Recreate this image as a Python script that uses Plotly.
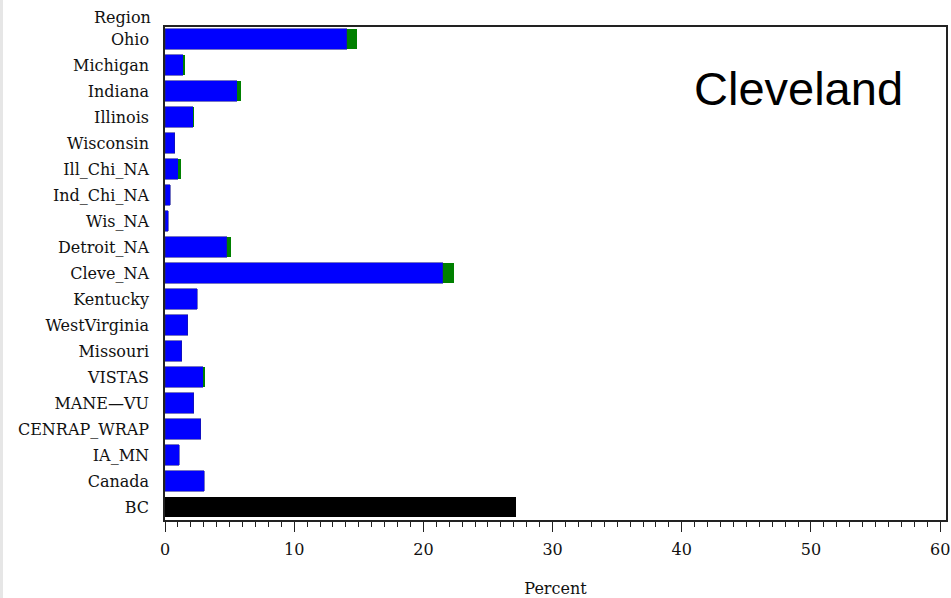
import plotly.graph_objects as go

regions = ["Ohio", "Michigan", "Indiana", "Illinois", "Wisconsin", "Ill_Chi_NA",
           "Ind_Chi_NA", "Wis_NA", "Detroit_NA", "Cleve_NA", "Kentucky",
           "WestVirginia", "Missouri", "VISTAS", "MANE\u2014VU", "CENRAP_WRAP",
           "IA_MN", "Canada", "BC"]
blue_vals = [14.05, 1.42, 5.6, 2.2, 0.75, 1.03, 0.39, 0.26, 4.77, 21.49, 2.5,
             1.75, 1.29, 2.97, 2.22, 2.76, 1.11, 3.04, 0]
green_vals = [0.83, 0.15, 0.26, 0.03, 0.0, 0.18, 0.0, 0.0, 0.33, 0.88, 0.0,
              0.0, 0.0, 0.1, 0.0, 0.0, 0.0, 0.0, 0]
bc_vals = [0] * 18 + [27.14]
x_ticks = [0, 10, 20, 30, 40, 50, 60]

serif = "DejaVu Serif"
fsize = 16

fig = go.Figure()
fig.add_trace(go.Bar(y=regions, x=blue_vals, orientation="h",
                     marker=dict(color="#0000FF", line=dict(width=0.6, color="#1a1a9a")),
                     width=0.78, showlegend=False))
fig.add_trace(go.Bar(y=regions, x=green_vals, orientation="h",
                     marker=dict(color="#008000", line=dict(width=0)),
                     width=0.78, showlegend=False))
fig.add_trace(go.Bar(y=regions, x=bc_vals, orientation="h",
                     marker=dict(color="#000000", line=dict(width=0)),
                     width=0.78, showlegend=False))

fig.update_layout(
    barmode="stack",
    width=951, height=598,
    margin=dict(l=165, r=5, t=27, b=78, autoexpand=False),
    paper_bgcolor="white", plot_bgcolor="white",
    font=dict(family=serif, size=fsize, color="#111111"),
    xaxis=dict(range=[0, 60.45], tickvals=x_ticks, ticktext=[str(v) for v in x_ticks],
               ticks="outside", ticklen=10, tickwidth=1, tickcolor="#222",
               minor=dict(dtick=1, ticks="outside", ticklen=5, tickcolor="#222", tickwidth=1),
               showline=True, linecolor="#222", linewidth=1.5, mirror=True,
               showgrid=False, zeroline=False, ticklabelstandoff=4, automargin=False,
               title=dict(text="Percent", font=dict(family=serif, size=fsize), standoff=32),
               tickfont=dict(family=serif, size=fsize)),
    yaxis=dict(range=[18.5, -0.46], showline=True, linecolor="#222", linewidth=1.5,
               mirror=True, showgrid=False, zeroline=False, ticks="", automargin=False,
               ticklabelstandoff=11, tickfont=dict(family=serif, size=fsize),
               type="category"),
    annotations=[
        dict(text="Region", xref="paper", yref="paper", x=0, y=1, xanchor="right",
             yanchor="middle", xshift=-12, yshift=10, showarrow=False,
             font=dict(family=serif, size=fsize, color="#111111")),
        dict(text="Cleveland", xref="paper", yref="paper", x=0.8105, y=0.876,
             xanchor="center", yanchor="middle", showarrow=False,
             font=dict(family="Liberation Sans", size=47, color="#000000")),
    ],
    shapes=[dict(type="rect", xref="paper", yref="paper", x0=-165/781, x1=-162/781,
                 y0=-78/493, y1=1 + 27/493, fillcolor="#e6e6e6", line=dict(width=0),
                 layer="below")],
)

fig.write_html("out.html")
